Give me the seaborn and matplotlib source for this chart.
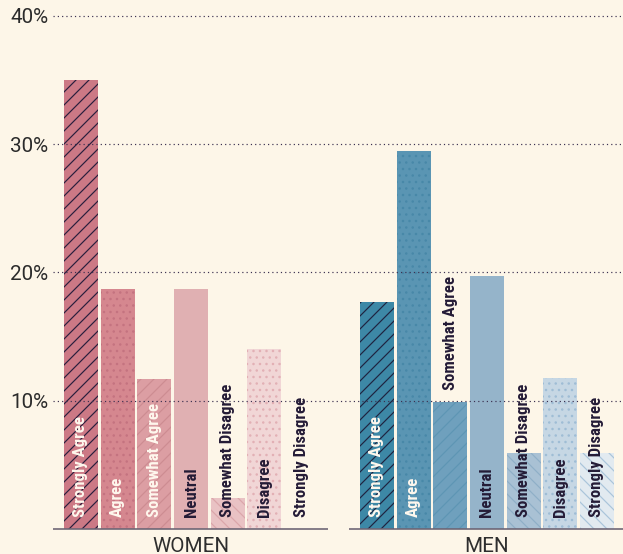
import matplotlib
matplotlib.use("Agg")
import matplotlib.pyplot as plt
import pandas as pd
import seaborn as sns

# ---------------- data ----------------
responses = ["Strongly Agree", "Agree", "Somewhat Agree", "Neutral",
             "Somewhat Disagree", "Disagree", "Strongly Disagree"]
groups = ["WOMEN", "MEN"]
women = [35.0, 18.7, 11.7, 18.7, 2.4, 14.0, 0.0]
men = [17.7, 29.5, 9.9, 19.7, 5.9, 11.8, 5.9]
yticks = [10, 20, 30, 40]
ytick_labels = ["10%", "20%", "30%", "40%"]

# ---------------- style ----------------
BG = "#fdf6e8"
DARK = "#241b36"
LIGHT = "#fff8ee"
women_colors = ["#cc7985", "#d5878f", "#dc9ea3", "#e0b0b2", "#e9c2c4", "#f1d6d6", "#f6e4e2"]
men_colors = ["#3d88a6", "#5a95b3", "#6fa0bd", "#95b4ca", "#a9c1d4", "#c6d7e4", "#e2eaf0"]
hatches = ["//", "..", "//", "", "\\\\", "..", "\\\\"]
women_hatch_colors = ["#2a1f3d", "#c47380", "#cd8c92", "#e0b0b2", "#dba6aa", "#e2b0b5", "#ebcfd0"]
men_hatch_colors = ["#1f2440", "#4888a8", "#5e95b4", "#95b4ca", "#8fafc7", "#9fbdd5", "#aac5da"]
women_text = [LIGHT, LIGHT, LIGHT, DARK, DARK, DARK, DARK]
men_text = [LIGHT, LIGHT, DARK, DARK, DARK, DARK, DARK]
women_above = [False] * 7
men_above = [False, False, True, False, False, False, False]

GROUP_OFFSET = 8.07
DPI = 78
W, H = 623, 554
PX_PER_UNIT = 12.83  # pixels per percent

plt.rcParams["hatch.linewidth"] = 1.1
plt.rcParams["font.family"] = ["Roboto", "DejaVu Sans"]

rows = []
for gi, vals in enumerate([women, men]):
    for i, v in enumerate(vals):
        rows.append({"pos": gi * GROUP_OFFSET + i, "value": v,
                     "group": groups[gi], "response": responses[i]})
df = pd.DataFrame(rows)

fig = plt.figure(figsize=(W / DPI, H / DPI), dpi=DPI, facecolor=BG)
ax_bottom_px, ax_top_px = 529, 10
ax = fig.add_axes([53 / W, (H - ax_bottom_px) / H, (W - 53) / W,
                   (ax_bottom_px - ax_top_px) / H])
ax.set_facecolor(BG)

sns.barplot(data=df, x="pos", y="value", native_scale=True, width=0.93,
            errorbar=None, color=women_colors[0], ax=ax, linewidth=0)

all_colors = women_colors + men_colors
all_hatches = hatches + hatches
all_hcolors = women_hatch_colors + men_hatch_colors
for p, fc, h, hc in zip(ax.patches, all_colors, all_hatches, all_hcolors):
    p.set_facecolor(fc)
    p.set_edgecolor(hc)
    p.set_linewidth(0)
    p.set_hatch(h if h else None)

ymax = (ax_bottom_px - ax_top_px) / PX_PER_UNIT
ax.set_ylim(0, ymax)
x_left = -28 / 36.67
x_right = (623 - 81) / 36.67
ax.set_xlim(x_left, x_right)

for s in ax.spines.values():
    s.set_visible(False)
ax.set_xticks([])
ax.set_xlabel("")
ax.set_ylabel("")
ax.set_yticks(yticks)
ax.set_yticklabels(ytick_labels, fontsize=19, color="#2b2b2b")
ax.tick_params(axis="y", length=0, pad=4.5)
ax.set_axisbelow(False)
ax.yaxis.grid(True, linestyle=(0, (1.0, 2.6)), color="#3b3050", linewidth=1.1)
ax.xaxis.grid(False)

# baselines
pad = 12 / PX_PER_UNIT
ax.plot([x_left, (328 - 81) / 36.67], [0, 0], color="#6c6474", lw=1.5,
        clip_on=False, solid_capstyle="butt", zorder=4)
ax.plot([(349 - 81) / 36.67, x_right], [0, 0], color="#6c6474", lw=1.5,
        clip_on=False, solid_capstyle="butt", zorder=4)

label_font = ["Roboto Condensed", "Liberation Sans Narrow", "DejaVu Sans"]
for gi, (vals, tcols, above) in enumerate([(women, women_text, women_above),
                                            (men, men_text, men_above)]):
    for i, v in enumerate(vals):
        x = gi * GROUP_OFFSET + i
        y = (v if above[i] else 0) + pad
        ax.text(x, y, responses[i], rotation=90, ha="center", va="bottom",
                fontsize=15.5, fontweight="bold", fontstretch="condensed",
                color=tcols[i], family=label_font, zorder=5)
    cx = gi * GROUP_OFFSET + (len(vals) - 1) / 2
    ax.text(cx, -17 / PX_PER_UNIT, groups[gi], ha="center", va="center",
            fontsize=19, color="#2e2e2e", clip_on=False)

fig.savefig("out.png", dpi=DPI, facecolor=BG)
